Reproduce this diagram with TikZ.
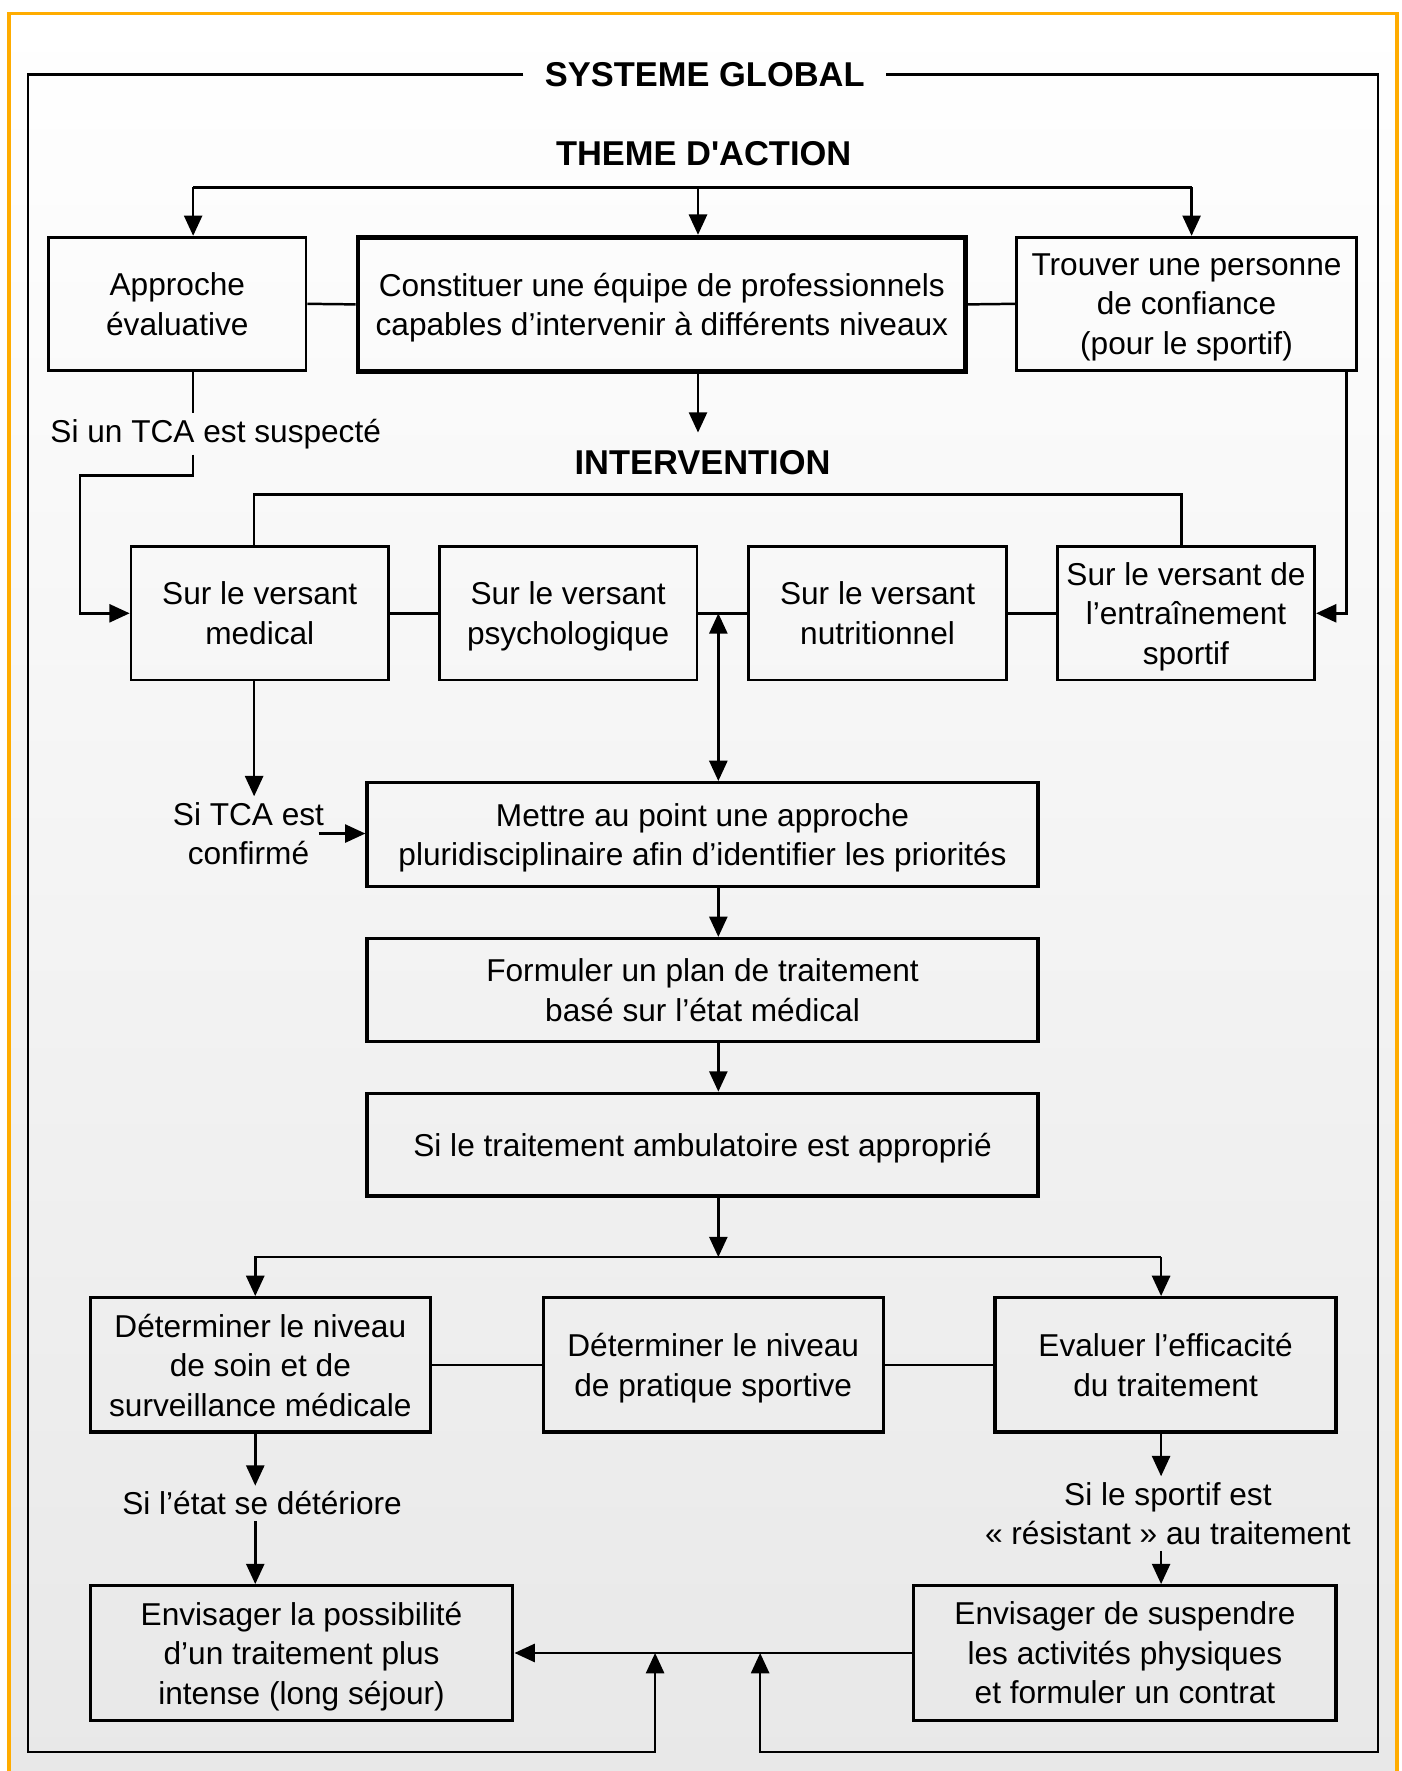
\documentclass[tikz,border=0pt]{standalone}
\usepackage{fontspec}
\setmainfont{Liberation Sans}[Ligatures=TeXOff]
\usepackage{tikz}
\usetikzlibrary{arrows.meta}
\definecolor{frameorange}{RGB}{255,172,0}

\begin{document}
\begin{tikzpicture}[x=1pt, y=-1pt,
  boxnode/.style={draw, line width=2.4pt, inner sep=0pt, align=center,
    text depth=0pt, font=\fontsize{28}{35}\selectfont},
  midbox/.style={boxnode, line width=3pt},
  lbl/.style={align=center, inner sep=5pt, font=\fontsize{28}{35}\selectfont},
  head/.style={inner sep=0pt, font=\bfseries\fontsize{30.5}{36}\selectfont},
  lnk/.style={line width=2.2pt},
  arr/.style={lnk, -{Triangle[length=18pt, width=16pt]}},
  darr/.style={lnk, {Triangle[length=18pt, width=16pt]}-{Triangle[length=18pt, width=16pt]}}]
\useasboundingbox (0,0) rectangle (1241,1568);
% Background and frame
\shade[top color=white, bottom color=black!9] (8,12) rectangle (1237,1568);
\draw[frameorange, line width=3pt] (8,1568) -- (8,12) -- (1237,12) -- (1237,1568);
% Headings
\node[head, inner xsep=19pt] (gtitle) at (624,66) {SYSTEME GLOBAL};
\node[head] (theme) at (623,136) {THEME D'ACTION};
\node[head] (inter) at (622,410) {INTERVENTION};
% Nodes
\node[boxnode, minimum width=228pt, minimum height=118pt] (appr) at (157,269) {Approche\\évaluative};
\node[boxnode, line width=4.2pt, minimum width=538pt, minimum height=119pt] (equipe) at (586,269.5) {Constituer une équipe de professionnels\\capables d’intervenir à différents niveaux};
\node[boxnode, minimum width=301pt, minimum height=118pt] (trouv) at (1050.5,269) {Trouver une personne\\de confiance\\(pour le sportif)};
\node[boxnode, minimum width=228pt, minimum height=118pt] (med) at (230,543) {Sur le versant\\medical};
\node[boxnode, minimum width=228pt, minimum height=118pt] (psy) at (503,543) {Sur le versant\\psychologique};
\node[boxnode, minimum width=228pt, minimum height=118pt] (nut) at (777,543) {Sur le versant\\nutritionnel};
\node[boxnode, minimum width=228pt, minimum height=118pt] (ent) at (1050,543) {Sur le versant de\\l’entraînement\\sportif};
\node[midbox, minimum width=594pt, minimum height=92pt] (mettre) at (622,739) {Mettre au point une approche\\pluridisciplinaire afin d’identifier les priorités};
\node[midbox, minimum width=594pt, minimum height=91pt] (formul) at (622,876.5) {Formuler un plan de traitement\\basé sur l’état médical};
\node[midbox, minimum width=594pt, minimum height=91pt] (ambul) at (622,1013.5) {Si le traitement ambulatoire est approprié};
\node[midbox, minimum width=301pt, minimum height=119pt] (soin) at (230.5,1208.5) {Déterminer le niveau\\de soin et de\\surveillance médicale};
\node[midbox, minimum width=301pt, minimum height=119pt] (prat) at (631.5,1208.5) {Déterminer le niveau\\de pratique sportive};
\node[midbox, minimum width=302pt, minimum height=119pt] (effic) at (1032,1208.5) {Evaluer l’efficacité\\du traitement};
\node[midbox, minimum width=374pt, minimum height=119pt] (intens) at (267,1463.5) {Envisager la possibilité\\d’un traitement plus\\intense (long séjour)};
\node[midbox, minimum width=374pt, minimum height=119pt] (susp) at (996,1463.5) {Envisager de suspendre\\les activités physiques\\et formuler un contrat};
% Labels
\node[lbl] (lsusp) at (191,384) {Si un TCA est suspecté};
\node[lbl] (lconf) at (220,738) {Si TCA est\\confirmé};
\node[lbl] (ldet) at (232,1331) {Si l’état se détériore};
\node[lbl] (lres) at (1034,1340) {Si le sportif est\\« résistant » au traitement};
% Bends
\coordinate (ta1) at (171,166);
\coordinate (ta2) at (618,166);
\coordinate (ta3) at (1055,166);
\coordinate (ia) at (618,383);
\coordinate (k1) at (71,421);
\coordinate (ib1) at (225,438);
\coordinate (ib2) at (1046,438);
\coordinate (dv) at (636,543);
\coordinate (bb1) at (226,1113);
\coordinate (bb2) at (1028,1113);
\coordinate (gl) at (25,1551);
\coordinate (gr) at (1220,1551);
\coordinate (fb1) at (580,1463.5);
\coordinate (fb2) at (673,1463.5);
% Arrows
\draw[lnk] (ta1) -- (ta3);
\draw[arr] (ta1) -- (ta1 |- appr.north);
\draw[arr] (ta2) -- (ta2 |- equipe.north);
\draw[arr] (ta3) -- (ta3 |- trouv.north);
\draw[lnk] (appr.east) -- (equipe.west);
\draw[lnk] (equipe.east) -- (trouv.west);
\draw[arr] (ta2 |- equipe.south) -- (ia);
\draw[lnk] (ta1 |- appr.south) -- (ta1 |- lsusp.north);
\draw[arr] (ta1 |- lsusp.south) |- (k1) |- (med.west);
\draw[arr] ([xshift=-10pt]trouv.south east) |- (ent.east);
\draw[lnk] (ib1 |- med.north) -- (ib1) -- (ib2) -- (ib2 |- ent.north);
\draw[lnk] (med.east) -- (psy.west);
\draw[lnk] (psy.east) -- (nut.west);
\draw[lnk] (nut.east) -- (ent.west);
\draw[darr] (dv) -- (dv |- mettre.north);
\draw[arr] (ib1 |- med.south) -- (ib1 |- lconf.north);
\draw[arr] ([xshift=-10pt]lconf.east) -- (lconf.east -| mettre.west);
\draw[arr] (dv |- mettre.south) -- (dv |- formul.north);
\draw[arr] (dv |- formul.south) -- (dv |- ambul.north);
\draw[arr] (dv |- ambul.south) -- (dv |- bb1);
\draw[arr] (bb2) -- (bb1) -- (bb1 |- soin.north);
\draw[arr] (bb2) -- (bb2 |- effic.north);
\draw[lnk] (soin.east) -- (prat.west);
\draw[lnk] (prat.east) -- (effic.west);
\draw[arr] (bb1 |- soin.south) -- (bb1 |- ldet.north);
\draw[arr] (bb1 |- ldet.south) -- (bb1 |- intens.north);
\draw[arr] (bb2 |- effic.south) -- (bb2 |- lres.north);
\draw[arr] (bb2 |- lres.south) -- (bb2 |- susp.north);
\draw[arr] (susp.west) -- (intens.east);
% Global frame
\draw[arr] (gtitle.west) -| (gl) -| (fb1);
\draw[arr] (gtitle.east) -| (gr) -| (fb2);
\end{tikzpicture}
\end{document}
